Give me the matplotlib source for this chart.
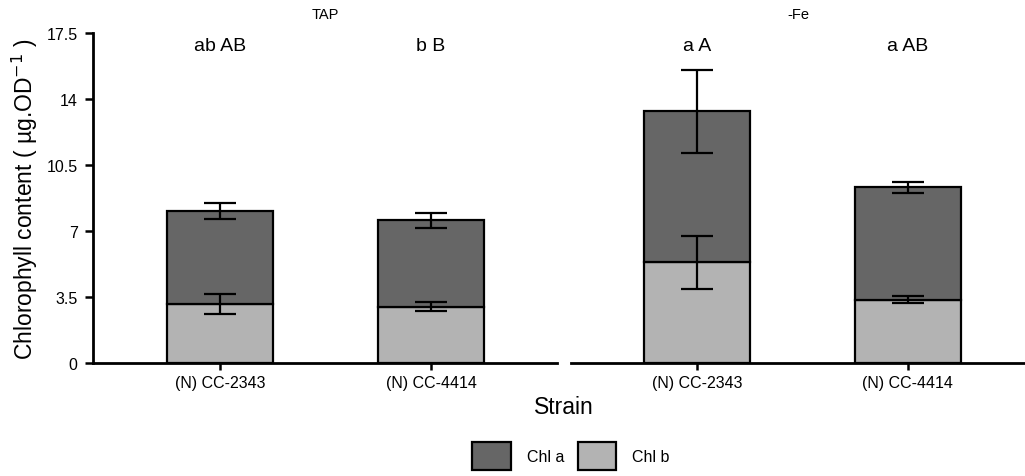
import matplotlib
matplotlib.use("Agg")
import matplotlib.pyplot as plt
from matplotlib.patches import Patch

plt.rcParams["font.family"] = ["Liberation Sans", "DejaVu Sans"]

# ---------------------------------------------------------------------------
# DATA
# ---------------------------------------------------------------------------
conditions = ["TAP", "-Fe"]
strains = ["(N) CC-2343", "(N) CC-4414"]

chl_b = {"TAP": [3.12, 2.99], "-Fe": [5.34, 3.35]}
chl_b_err = {"TAP": [0.53, 0.22], "-Fe": [1.41, 0.19]}
total = {"TAP": [8.04, 7.56], "-Fe": [13.36, 9.31]}
total_err = {"TAP": [0.42, 0.40], "-Fe": [2.20, 0.31]}
letters = {"TAP": ["ab AB", "b B"], "-Fe": ["a A", "a AB"]}

DARK = "#666666"
LIGHT = "#b3b3b3"

W, H = 1025, 477
fig = plt.figure(figsize=(W / 100, H / 100), dpi=100)

# panel geometry in pixels: (left, right, xlim)
y0, y1 = 364, 34
panels = [(93, 557, (-0.602, 1.597)), (571, 1025, (-0.597, 1.555))]

for i, (cond, (x0, x1, xl)) in enumerate(zip(conditions, panels)):
    ax = fig.add_axes([x0 / W, 1 - y0 / H, (x1 - x0) / W, (y0 - y1) / H])
    x = list(range(len(strains)))
    b = chl_b[cond]
    a = [t - bb for t, bb in zip(total[cond], b)]
    ax.bar(x, b, width=0.5, color=LIGHT, edgecolor="black", lw=1.6, zorder=2)
    ax.bar(x, a, width=0.5, bottom=b, color=DARK, edgecolor="black", lw=1.6, zorder=2)
    for yv, ye in ((b, chl_b_err[cond]), (total[cond], total_err[cond])):
        ax.errorbar(x, yv, yerr=ye, fmt="none", ecolor="black",
                    elinewidth=1.6, capsize=11.5, capthick=1.6, zorder=3)
    for xi, lab in zip(x, letters[cond]):
        ax.text(xi, 16.85, lab, ha="center", va="center", fontsize=14)

    ax.set_xlim(*xl)
    ax.set_ylim(0, 17.5)
    ax.set_xticks(x)
    ax.set_xticklabels(strains, fontsize=11.5)
    ax.tick_params(axis="x", length=5, width=1.8, pad=4)
    ax.spines["top"].set_visible(False)
    ax.spines["right"].set_visible(False)
    ax.spines["bottom"].set_linewidth(2.0)
    ax.spines["left"].set_linewidth(2.0)
    ax.text(0.5, 1.0 + 19 / (y0 - y1), cond, transform=ax.transAxes,
            ha="center", va="center", fontsize=10.5)
    if i == 0:
        ax.set_yticks([0, 3.5, 7, 10.5, 14, 17.5])
        ax.set_yticklabels(["0", "3.5", "7", "10.5", "14", "17.5"], fontsize=11.5)
        ax.tick_params(axis="y", length=6, width=1.8, pad=5)
        ax.set_ylabel("Chlorophyll content ( µg.OD$^{-1}$ )", fontsize=16.5, labelpad=5)
    else:
        ax.spines["left"].set_visible(False)
        ax.set_yticks([])

fig.text(564 / W, 1 - 408 / H, "Strain", ha="center", va="center", fontsize=16.5)

handles = [Patch(facecolor=DARK, edgecolor="black", lw=1.6, label="Chl a"),
           Patch(facecolor=LIGHT, edgecolor="black", lw=1.6, label="Chl b")]
fig.legend(handles=handles, loc="center", bbox_to_anchor=(571 / W, 1 - 457 / H),
           ncol=2, frameon=False, fontsize=11.5, handlelength=2.4, handleheight=2.3,
           handletextpad=1.0, columnspacing=0.87)

fig.savefig("out.png", dpi=100)
